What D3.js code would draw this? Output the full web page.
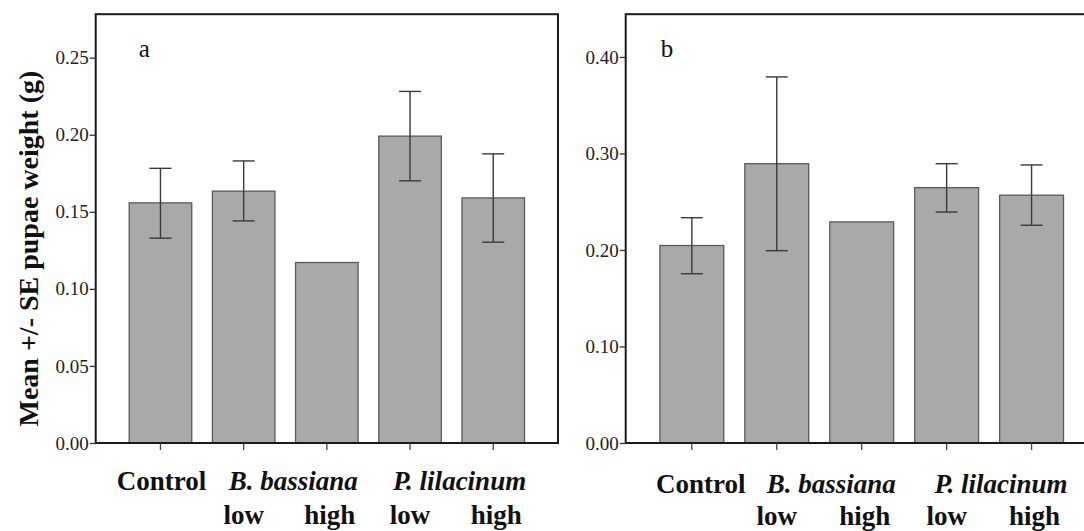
<!DOCTYPE html>
<html>
<head>
<meta charset="utf-8">
<script src="https://cdn.jsdelivr.net/npm/d3@7"></script>
<style>
  html, body { margin: 0; padding: 0; background: #fff; overflow: hidden; }
  svg { display: block; }
</style>
</head>
<body>
<svg id="chart" width="1084" height="531"></svg>
<script>
// ---- data ----
const categories = ["Control", "B. bassiana low", "B. bassiana high", "P. lilacinum low", "P. lilacinum high"];
const meansA   = [0.1558, 0.1634, 0.1171, 0.1991, 0.1590];
const seLowA   = [0.1329, 0.1441, null,   0.1701, 0.1303];
const seHighA  = [0.1782, 0.1830, null,   0.2281, 0.1876];
const meansB   = [0.2046, 0.2894, 0.2291, 0.2646, 0.2568];
const seLowB   = [0.1754, 0.1993, null,   0.2393, 0.2256];
const seHighB  = [0.2334, 0.3793, null,   0.2894, 0.2881];
const ticksA   = [0, 0.05, 0.10, 0.15, 0.20, 0.25];
const ticksB   = [0, 0.10, 0.20, 0.30, 0.40];
const yMaxA = 0.2782, yMaxB = 0.4443;
const speciesLabels = ["B. bassiana", "P. lilacinum"];
const doseLabels = ["low", "high", "low", "high"];
const panelLetters = ["a", "b"];
const yTitle = "Mean +/- SE pupae weight (g)";

const svg = d3.select("#chart");
const serif = "'Liberation Serif', 'Times New Roman', serif";

const panels = [
  { left: 95.7, right: 558, top: 14.2, bottom: 443, means: meansA, lo: seLowA, hi: seHighA, ticks: ticksA, ymax: yMaxA, letter: panelLetters[0], letterDx: 43, row1: 47, row2: 81, ctrlDx: 1, spDx: 8, title: true },
  { left: 625.7, right: 1097.7, top: 14.2, bottom: 443, means: meansB, lo: seLowB, hi: seHighB, ticks: ticksB, ymax: yMaxB, letter: panelLetters[1], letterDx: 35, row1: 50, row2: 82, ctrlDx: 9, spDx: 12, title: false }
];

panels.forEach(p => {
  const x = d3.scaleBand().domain(categories).range([p.left, p.right]).paddingInner(0.248).paddingOuter(0.4025);
  const y = d3.scaleLinear().domain([0, p.ymax]).range([p.bottom, p.top]);
  const g = svg.append("g");

  // bars
  g.selectAll("rect.bar").data(categories).join("rect")
    .attr("class", "bar")
    .attr("x", d => x(d))
    .attr("width", x.bandwidth())
    .attr("y", (d, i) => y(p.means[i]))
    .attr("height", (d, i) => y(0) - y(p.means[i]))
    .attr("fill", "#a9a9a9")
    .attr("stroke", "#5a5a5a")
    .attr("stroke-width", 1.3);

  // error bars
  const capW = 22;
  const eb = g.selectAll("g.err").data(categories.map((c, i) => ({ c, lo: p.lo[i], hi: p.hi[i] })).filter(d => d.lo != null))
    .join("g").attr("class", "err")
    .attr("stroke", "#3a3a3a").attr("stroke-width", 1.4);
  eb.append("line")
    .attr("x1", d => x(d.c) + x.bandwidth() / 2).attr("x2", d => x(d.c) + x.bandwidth() / 2)
    .attr("y1", d => y(d.lo)).attr("y2", d => y(d.hi));
  eb.append("line")
    .attr("x1", d => x(d.c) + x.bandwidth() / 2 - capW / 2).attr("x2", d => x(d.c) + x.bandwidth() / 2 + capW / 2)
    .attr("y1", d => y(d.hi)).attr("y2", d => y(d.hi));
  eb.append("line")
    .attr("x1", d => x(d.c) + x.bandwidth() / 2 - capW / 2).attr("x2", d => x(d.c) + x.bandwidth() / 2 + capW / 2)
    .attr("y1", d => y(d.lo)).attr("y2", d => y(d.lo));

  // frame
  g.append("rect")
    .attr("x", p.left).attr("y", p.top)
    .attr("width", p.right - p.left).attr("height", p.bottom - p.top)
    .attr("fill", "none").attr("stroke", "#1a1a1a").attr("stroke-width", 2);

  // y axis
  const yAxis = g.append("g").attr("transform", `translate(${p.left},0)`)
    .call(d3.axisLeft(y).tickValues(p.ticks).tickFormat(d3.format(".2f")).tickSize(6).tickPadding(1));
  yAxis.select(".domain").remove();
  yAxis.selectAll(".tick line").attr("stroke", "#333").attr("stroke-width", 1.3);
  yAxis.selectAll(".tick text").attr("font-family", serif).attr("font-size", 19).attr("fill", "#222");

  // x axis ticks
  const xAxis = g.append("g").attr("transform", `translate(0,${p.bottom})`)
    .call(d3.axisBottom(x).tickFormat("").tickSize(7));
  xAxis.select(".domain").remove();
  xAxis.selectAll(".tick line").attr("stroke", "#444").attr("stroke-width", 1.3);

  const cx = i => x(categories[i]) + x.bandwidth() / 2;

  // x labels row 1
  g.append("text").attr("x", cx(0) + p.ctrlDx).attr("y", p.bottom + p.row1)
    .attr("text-anchor", "middle").attr("font-family", serif).attr("font-weight", "bold")
    .attr("font-size", 27).attr("fill", "#111").text(categories[0]);
  speciesLabels.forEach((s, k) => {
    g.append("text").attr("x", (cx(1 + 2 * k) + cx(2 + 2 * k)) / 2 + p.spDx).attr("y", p.bottom + p.row1)
      .attr("text-anchor", "middle").attr("font-family", serif).attr("font-weight", "bold").attr("font-style", "italic")
      .attr("font-size", 27).attr("fill", "#111").text(s);
  });
  // row 2
  doseLabels.forEach((s, k) => {
    g.append("text").attr("x", cx(k + 1) + (k % 2 === 0 ? 0 : 3)).attr("y", p.bottom + p.row2)
      .attr("text-anchor", "middle").attr("font-family", serif).attr("font-weight", "bold")
      .attr("font-size", 27).attr("fill", "#111").text(s);
  });

  // panel letter
  g.append("text").attr("x", p.left + p.letterDx).attr("y", p.top + 43)
    .attr("font-family", serif).attr("font-size", 25).attr("fill", "#111").text(p.letter);

  if (p.title) {
    g.append("text")
      .attr("transform", `translate(38, ${(p.top + p.bottom) / 2 + 20}) rotate(-90)`)
      .attr("text-anchor", "middle").attr("font-family", serif).attr("font-weight", "bold")
      .attr("font-size", 28).attr("fill", "#111").text(yTitle);
  }
});
</script>
</body>
</html>
